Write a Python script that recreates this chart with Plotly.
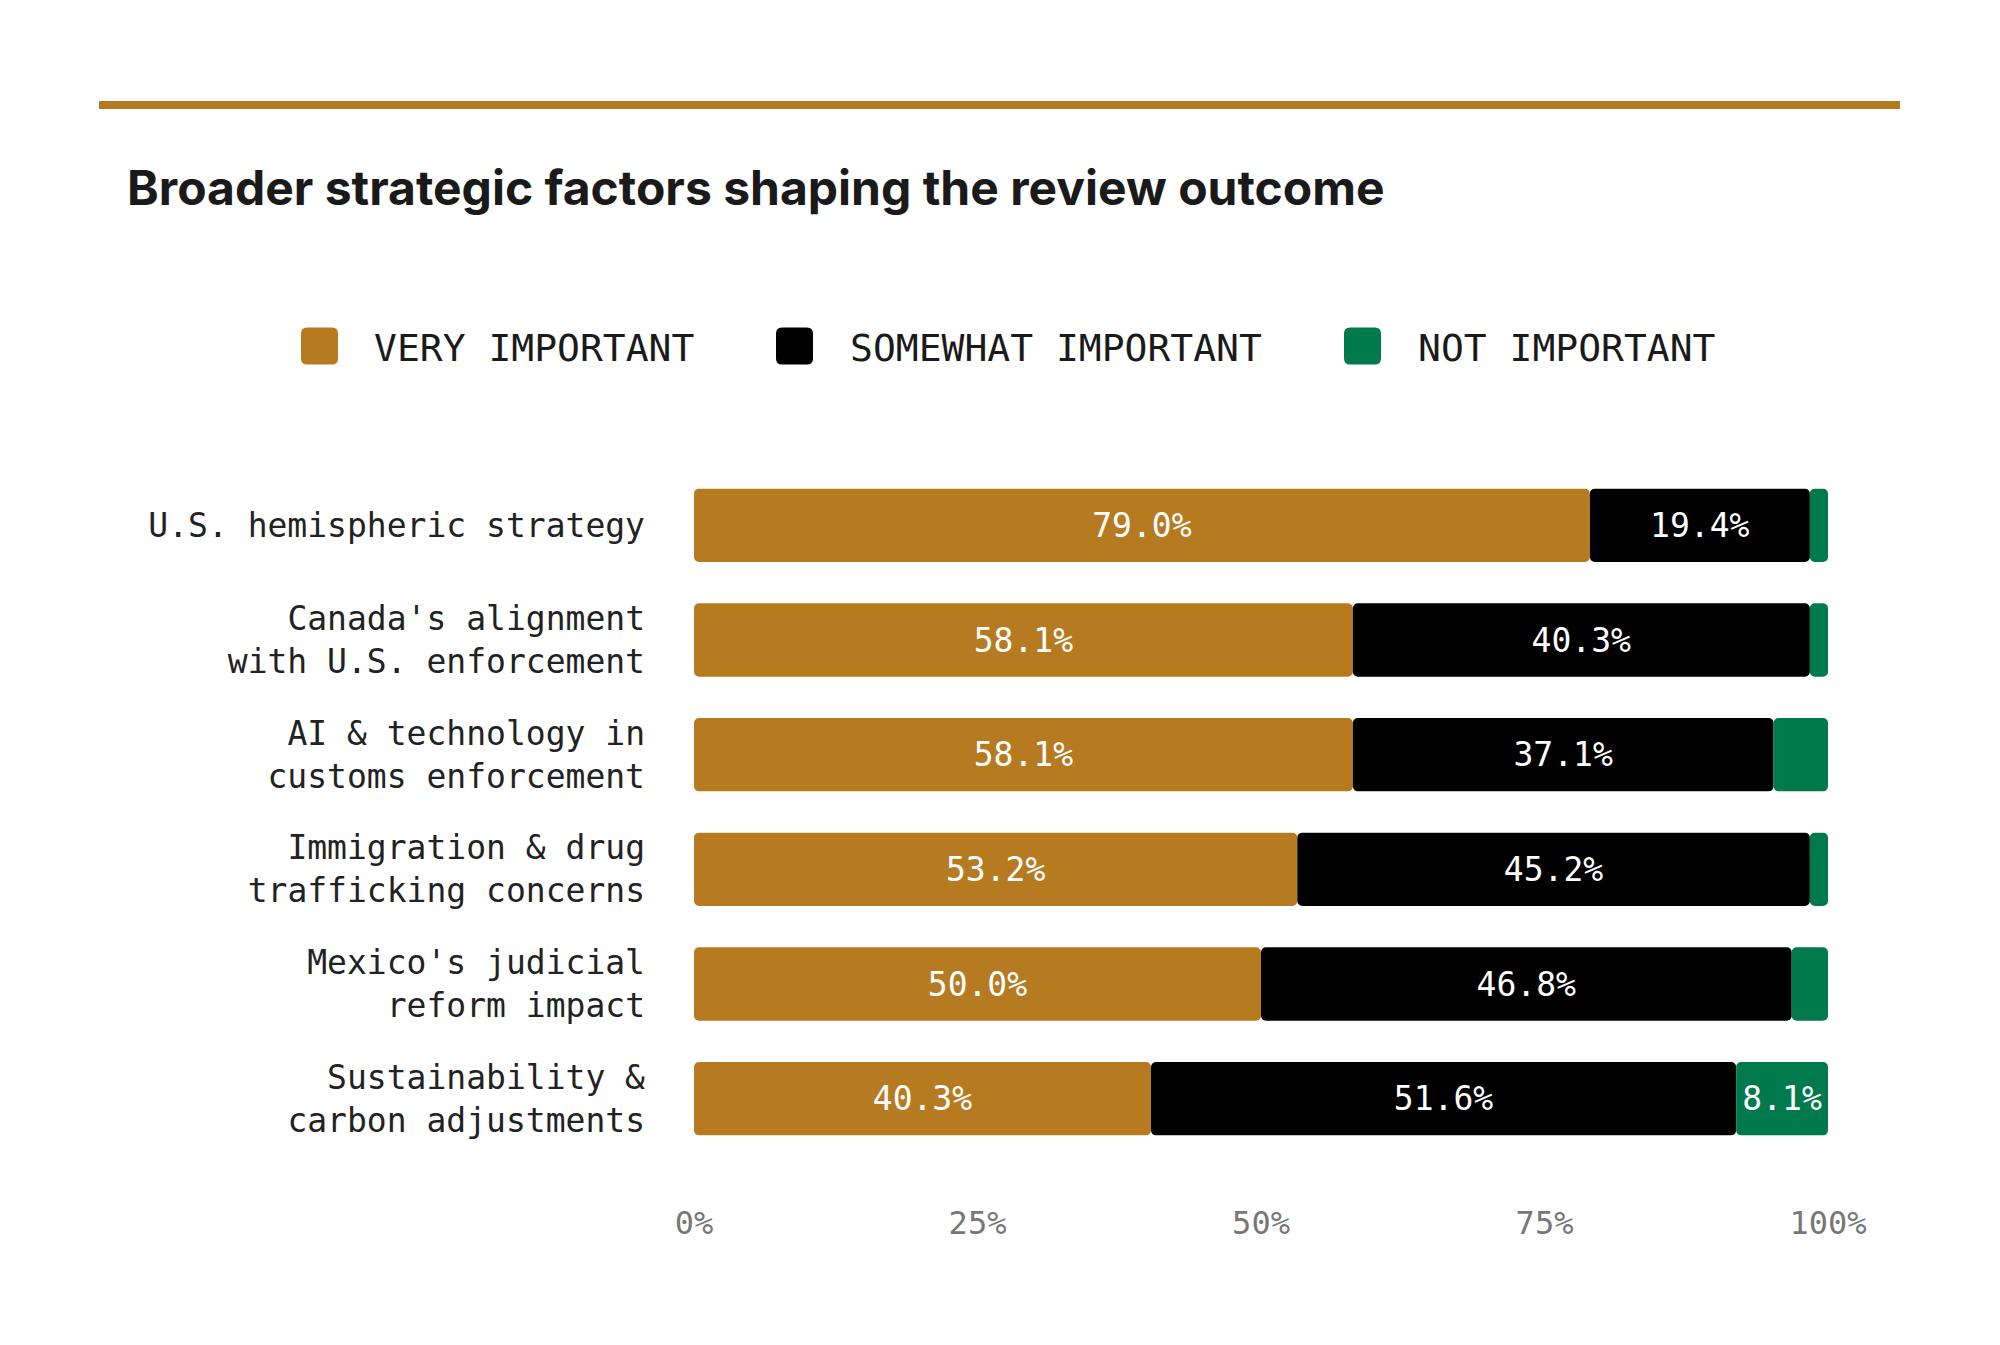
import plotly.graph_objects as go

categories = [
    "U.S. hemispheric strategy",
    "Canada's alignment<br>with U.S. enforcement",
    "AI & technology in<br>customs enforcement",
    "Immigration & drug<br>trafficking concerns",
    "Mexico's judicial<br>reform impact",
    "Sustainability &<br>carbon adjustments",
]
very_important = [79.0, 58.1, 58.1, 53.2, 50.0, 40.3]
somewhat_important = [19.4, 40.3, 37.1, 45.2, 46.8, 51.6]
not_important = [1.6, 1.6, 4.8, 1.6, 3.2, 8.1]
series_names = ["VERY IMPORTANT", "SOMEWHAT IMPORTANT", "NOT IMPORTANT"]
tick_vals = [0, 25, 50, 75, 100]
tick_text = ["0%", "25%", "50%", "75%", "100%"]

colors = ["#B67B21", "#000000", "#007A4D"]
MONO = "DejaVu Sans Mono"
W, H = 2000, 1345

fig = go.Figure()
series = [very_important, somewhat_important, not_important]
base = [0.0] * len(categories)
for name, vals, col in zip(series_names, series, colors):
    fig.add_trace(go.Bar(
        y=categories, x=vals, base=list(base), orientation="h", name=name,
        marker=dict(color=col, line=dict(width=0), cornerradius=5),
        text=[f"{v:.1f}%" if v >= 5 else "" for v in vals],
        textposition="inside", insidetextanchor="middle", textangle=0,
        constraintext="none",
        textfont=dict(family=MONO, size=33, color="white"),
        showlegend=False, hoverinfo="skip",
    ))
    base = [b + v for b, v in zip(base, vals)]

# plot area
L, R, T, B = 686, 180, 460, 197

fig.update_layout(
    width=W, height=H, barmode="overlay", bargap=0.36,
    paper_bgcolor="white", plot_bgcolor="white",
    margin=dict(l=L, r=R, t=T, b=B, pad=0),
    xaxis=dict(range=[0, 100], tickvals=tick_vals, ticktext=tick_text,
               showgrid=False, zeroline=False, showline=False,
               tickfont=dict(family=MONO, size=32, color="#777777"),
               ticks="", ticklabelstandoff=45, fixedrange=True),
    yaxis=dict(autorange="reversed", showgrid=False, zeroline=False, showline=False,
               tickfont=dict(family=MONO, size=33, color="#222222"),
               ticks="", ticklabelstandoff=48, fixedrange=True),
    font=dict(family=MONO),
)


def px_x(x):
    return (x - L) / (W - L - R)


def px_y(y):
    return 1 + (T - y) / (H - T - B)


# top rule
fig.add_shape(type="line", xref="paper", yref="paper",
              x0=px_x(91), x1=px_x(1892), y0=px_y(97), y1=px_y(97),
              line=dict(color="#B67B21", width=8))

# title
fig.add_annotation(text="<b>Broader strategic factors shaping the review outcome</b>",
                   xref="paper", yref="paper",
                   x=px_x(117), y=px_y(180),
                   xanchor="left", yanchor="middle", showarrow=False,
                   font=dict(family="Inter", size=48, color="#1a1a1a"))


def rounded_square(x0, y0, size, r):
    x1, y1 = x0 + size, y0 + size
    pts = [
        f"M {px_x(x0 + r)},{px_y(y0)}",
        f"L {px_x(x1 - r)},{px_y(y0)}",
        f"Q {px_x(x1)},{px_y(y0)} {px_x(x1)},{px_y(y0 + r)}",
        f"L {px_x(x1)},{px_y(y1 - r)}",
        f"Q {px_x(x1)},{px_y(y1)} {px_x(x1 - r)},{px_y(y1)}",
        f"L {px_x(x0 + r)},{px_y(y1)}",
        f"Q {px_x(x0)},{px_y(y1)} {px_x(x0)},{px_y(y1 - r)}",
        f"L {px_x(x0)},{px_y(y0 + r)}",
        f"Q {px_x(x0)},{px_y(y0)} {px_x(x0 + r)},{px_y(y0)}",
        "Z",
    ]
    return " ".join(pts)


# legend (manual)
leg_y = 338
sq = 37
for (sx, tx), name, col in zip([(293, 364), (768, 840), (1336, 1408)], series_names, colors):
    fig.add_shape(type="path", xref="paper", yref="paper",
                  path=rounded_square(sx, leg_y - sq / 2, sq, 6),
                  fillcolor=col, line=dict(width=0))
    fig.add_annotation(text=name, xref="paper", yref="paper", x=px_x(tx), y=px_y(leg_y + 2),
                       xanchor="left", yanchor="middle", showarrow=False,
                       font=dict(family=MONO, size=38, color="#1a1a1a"))

fig.write_html("out.html")
